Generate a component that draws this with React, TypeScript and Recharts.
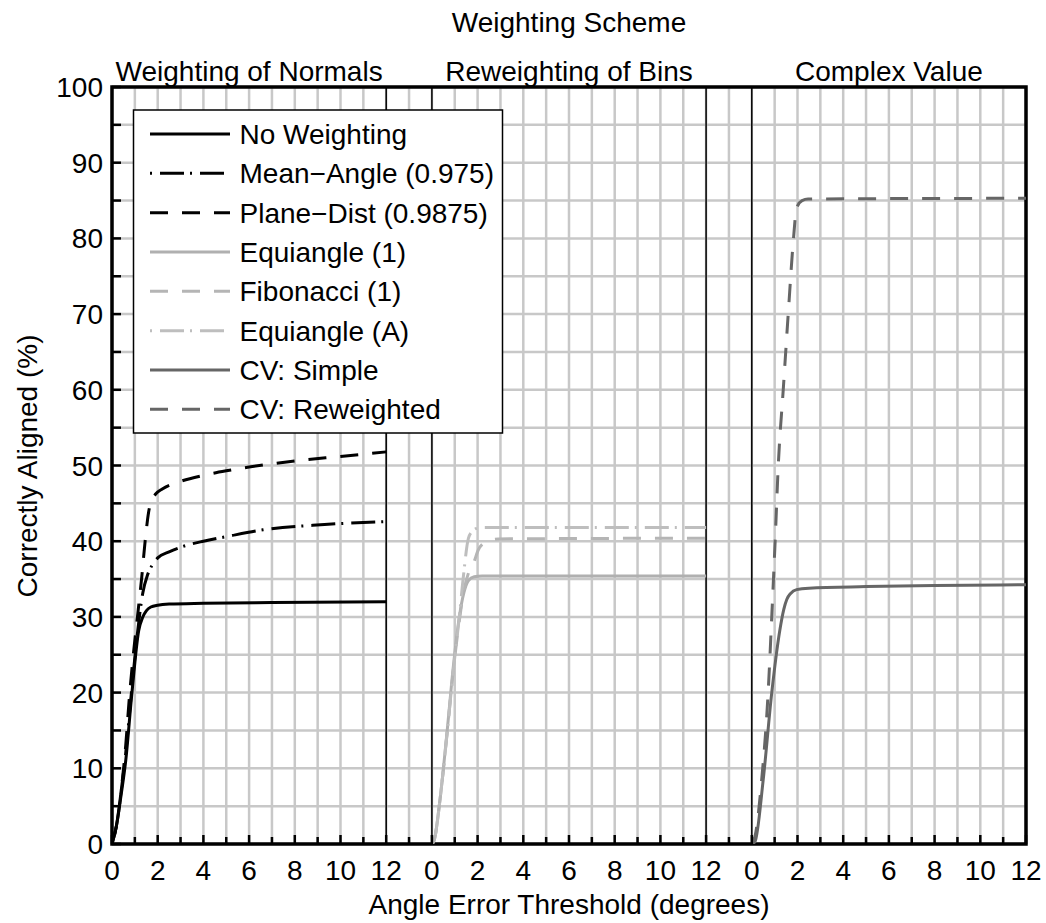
import React from 'react';
import { LineChart, Line, XAxis, YAxis, CartesianGrid, ReferenceLine, ReferenceArea } from 'recharts';

const FONT = '"Liberation Sans", Arial, Helvetica, sans-serif';
const W = 1038;
const H = 915;

// ---- categories / panels ----
const panelNames = ['Weighting of Normals', 'Reweighting of Bins', 'Complex Value'];
const panelOffsets = [0, 14, 28];
const panelSpan = 12;
const xTicks = Array.from({ length: 41 }, (_, i) => i);
const yTicks = [0, 5, 10, 15, 20, 25, 30, 35, 40, 45, 50, 55, 60, 65, 70, 75, 80, 85, 90, 95, 100];

// ---- series values (threshold in degrees, % correctly aligned) ----
const noWeightingX = [0, 0.2, 0.4, 0.6, 0.87, 1.17, 1.35, 1.5, 1.7, 2.0, 2.5, 4, 7, 12];
const noWeightingY = [0, 2.5, 6.5, 11, 19.9, 28.2, 30.0, 30.8, 31.3, 31.55, 31.7, 31.8, 31.9, 32.0];

const meanAngleX = [0, 0.2, 0.4, 0.6, 0.85, 1.1, 1.35, 1.55, 1.75, 2.0, 2.5, 3.1, 4, 5, 6.6, 9.3, 12];
const meanAngleY = [0, 2.5, 7, 12, 20, 27.5, 33.2, 35.5, 36.8, 37.8, 38.6, 39.3, 40.0, 40.6, 41.5, 42.2, 42.6];

const planeDistX = [0, 0.2, 0.4, 0.6, 0.75, 0.95, 1.15, 1.3, 1.45, 1.6, 1.75, 1.9, 2.2, 3, 4, 5, 6, 8, 10, 12];
const planeDistY = [0, 2.5, 7, 13, 19, 25.5, 31, 35.2, 40, 43.8, 45.5, 46.2, 46.9, 47.9, 48.7, 49.3, 49.8, 50.6, 51.2, 51.8];

const equiangle1X = [0, 0.1, 0.36, 0.66, 0.94, 1.2, 1.4, 1.6, 1.85, 2.2, 12];
const equiangle1Y = [0, 0.5, 6, 14.7, 23.5, 30, 33.2, 34.8, 35.3, 35.4, 35.4];

const fibonacciX = [0, 0.1, 0.36, 0.66, 0.94, 1.2, 1.4, 1.6, 1.82, 2.04, 2.3, 2.9, 12];
const fibonacciY = [0, 0.5, 6, 14.5, 23, 29.5, 33.5, 35.8, 37.1, 38.9, 39.8, 40.3, 40.4];

const equiangleAX = [0, 0.1, 0.36, 0.66, 0.94, 1.2, 1.38, 1.6, 1.8, 1.97, 2.3, 12];
const equiangleAY = [0, 0.5, 6, 14.5, 23, 30, 35.4, 40.4, 41.4, 41.7, 41.8, 41.8];

const cvSimpleX = [0, 0.14, 0.5, 0.87, 1.23, 1.4, 1.53, 1.7, 1.96, 2.5, 5, 8, 12];
const cvSimpleY = [0, 0.3, 8.5, 19.9, 28.3, 31.0, 32.3, 33.1, 33.6, 33.8, 34.0, 34.15, 34.25];

const cvReweightedX = [0, 0.14, 0.43, 0.72, 0.87, 1.02, 1.16, 1.38, 1.6, 1.82, 1.96, 2.2, 2.46, 12];
const cvReweightedY = [0, 1, 8.4, 20.3, 29.8, 39.9, 50.1, 60.2, 70.3, 79.8, 84.0, 85.0, 85.2, 85.3];

const DASH = '18 14';
const DASHDOT = '2 8 24 6';

type Series = { name: string; xs: number[]; ys: number[]; panel: number; color: string; dash?: string };

const series: Series[] = [
  { name: 'No Weighting', xs: noWeightingX, ys: noWeightingY, panel: 0, color: '#000000' },
  { name: 'Mean\u2212Angle (0.975)', xs: meanAngleX, ys: meanAngleY, panel: 0, color: '#000000', dash: DASHDOT },
  { name: 'Plane\u2212Dist (0.9875)', xs: planeDistX, ys: planeDistY, panel: 0, color: '#000000', dash: DASH },
  { name: 'Equiangle (1)', xs: equiangle1X, ys: equiangle1Y, panel: 1, color: '#b0b0b0' },
  { name: 'Fibonacci (1)', xs: fibonacciX, ys: fibonacciY, panel: 1, color: '#b5b5b5', dash: DASH },
  { name: 'Equiangle (A)', xs: equiangleAX, ys: equiangleAY, panel: 1, color: '#bebebe', dash: DASHDOT },
  { name: 'CV: Simple', xs: cvSimpleX, ys: cvSimpleY, panel: 2, color: '#666666' },
  { name: 'CV: Reweighted', xs: cvReweightedX, ys: cvReweightedY, panel: 2, color: '#666666', dash: DASH },
];

const toData = (s: Series) => s.xs.map((x, i) => ({ x: x + panelOffsets[s.panel], y: s.ys[i] }));

const tickLabel = (v: number): string | null => {
  if (v % 2 !== 0) return null;
  for (const off of panelOffsets) {
    if (v >= off && v <= off + panelSpan) return String(v - off);
  }
  return null;
};

const BottomTick = (props: any) => {
  const { x, y, payload } = props;
  const v = payload.value as number;
  const major = v % 2 === 0;
  const label = tickLabel(v);
  return (
    <g>
      <line x1={x} x2={x} y1={y} y2={y - (major ? 9 : 7)} stroke="#000" strokeWidth={2.5} />
      {label !== null && (
        <text x={x} y={y + 36} textAnchor="middle" fontSize={28} fontFamily={FONT} fill="#000">
          {label}
        </text>
      )}
    </g>
  );
};

const TopTick = (props: any) => {
  const { x, y, payload } = props;
  const major = (payload.value as number) % 2 === 0;
  return <line x1={x} x2={x} y1={y} y2={y + (major ? 9 : 7)} stroke="#000" strokeWidth={2.5} />;
};

const LeftTick = (props: any) => {
  const { x, y, payload } = props;
  const v = payload.value as number;
  return (
    <g>
      <line x1={x} x2={x + 9} y1={y} y2={y} stroke="#000" strokeWidth={2.5} />
      {v % 10 === 0 && (
        <text x={x - 9} y={y + 10} textAnchor="end" fontSize={28} fontFamily={FONT} fill="#000">
          {v}
        </text>
      )}
    </g>
  );
};

const RightTick = (props: any) => {
  const { x, y } = props;
  return <line x1={x} x2={x - 9} y1={y} y2={y} stroke="#000" strokeWidth={2.5} />;
};

const separators = [12, 14, 26, 28];

// overlay layout (chart pixel coords)
const plotLeft = 104;
const plotRight = W - 20;
const pxPerUnit = (plotRight - plotLeft) / 40;
const legendBox = { x: 125.5, y: 102, w: 369, h: 323 };
const legendRow0 = 126;
const legendStep = 39.33;

export default function App() {
  return (
    <div style={{ width: W + 8, height: H + 8, padding: '8px 0 0 8px', boxSizing: 'border-box', background: '#fff', overflow: 'hidden' }}>
      <style>{'html,body{margin:0;padding:0;overflow:hidden;}'}</style>
      <div style={{ position: 'relative', width: W, height: H }}>
        <LineChart width={W} height={H} margin={{ top: 79, right: 20, bottom: 0, left: 0 }}>
          <CartesianGrid stroke="#c8c8c8" strokeWidth={2.5} />
          <XAxis
            dataKey="x"
            type="number"
            domain={[0, 40]}
            ticks={xTicks}
            interval={0}
            height={79}
            tickSize={0}
            tickMargin={0}
            axisLine={false}
            tickLine={false}
            tick={(p: any) => <BottomTick {...p} />}
            allowDataOverflow
          />
          <XAxis
            xAxisId="top"
            orientation="top"
            dataKey="x"
            type="number"
            domain={[0, 40]}
            ticks={xTicks}
            interval={0}
            height={0}
            tickSize={0}
            tickMargin={0}
            axisLine={false}
            tickLine={false}
            tick={(p: any) => <TopTick {...p} />}
          />
          <YAxis
            type="number"
            domain={[0, 100]}
            ticks={yTicks}
            interval={0}
            width={104}
            tickSize={0}
            tickMargin={0}
            axisLine={false}
            tickLine={false}
            tick={(p: any) => <LeftTick {...p} />}
            allowDataOverflow
          />
          <YAxis
            yAxisId="right"
            orientation="right"
            type="number"
            domain={[0, 100]}
            ticks={yTicks}
            interval={0}
            width={0}
            tickSize={0}
            tickMargin={0}
            axisLine={false}
            tickLine={false}
            tick={(p: any) => <RightTick {...p} />}
          />
          {separators.map((s) => (
            <ReferenceLine key={s} x={s} stroke="#000" strokeWidth={1.5} />
          ))}
          {series.map((s) => (
            <Line
              key={s.name}
              data={toData(s)}
              dataKey="y"
              type="monotone"
              stroke={s.color}
              strokeWidth={3}
              strokeDasharray={s.dash}
              dot={false}
              activeDot={false}
              isAnimationActive={false}
            />
          ))}
          <ReferenceArea x1={0} x2={40} y1={0} y2={100} fill="none" fillOpacity={0} stroke="#000" strokeWidth={3.5} />
        </LineChart>
        <svg
          width={W}
          height={H}
          style={{ position: 'absolute', left: 0, top: 0, pointerEvents: 'none', overflow: 'visible' }}
        >
          <g fontFamily={FONT} fontSize={28} fill="#000">
            <text x={plotLeft + 20 * pxPerUnit} y={24} textAnchor="middle">
              Weighting Scheme
            </text>
            {panelNames.map((n, i) => (
              <text key={n} x={plotLeft + (panelOffsets[i] + panelSpan / 2) * pxPerUnit} y={73} textAnchor="middle">
                {n}
              </text>
            ))}
            <text x={plotLeft + 20 * pxPerUnit} y={906} textAnchor="middle">
              Angle Error Threshold (degrees)
            </text>
            <text transform={`translate(29, 458) rotate(-90)`} textAnchor="middle">
              Correctly Aligned (%)
            </text>
          </g>
          <rect
            x={legendBox.x}
            y={legendBox.y}
            width={legendBox.w}
            height={legendBox.h}
            fill="#fff"
            stroke="#000"
            strokeWidth={1.5}
          />
          {series.map((s, i) => {
            const yy = legendRow0 + i * legendStep;
            return (
              <g key={s.name}>
                <line x1={142} x2={222} y1={yy} y2={yy} stroke={s.color} strokeWidth={3} strokeDasharray={s.dash} />
                <text x={231.5} y={yy + 10} fontFamily={FONT} fontSize={28} fill="#000">
                  {s.name}
                </text>
              </g>
            );
          })}
        </svg>
      </div>
    </div>
  );
}
